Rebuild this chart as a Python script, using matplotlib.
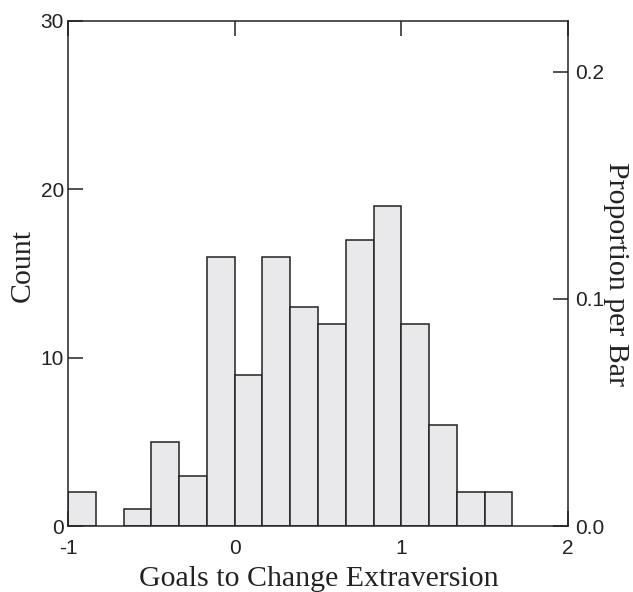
import matplotlib
matplotlib.use("Agg")
import matplotlib.pyplot as plt
import numpy as np

# Data
bin_start = -1.0
bin_width = 1.0 / 6.0
counts = [2, 0, 1, 5, 3, 16, 9, 16, 13, 12, 17, 19, 12, 6, 2, 2]
x_ticks = [-1, 0, 1, 2]
x_tick_labels = ["-1", "0", "1", "2"]
count_ticks = [0, 10, 20, 30]
prop_ticks = [0.0, 0.1, 0.2]
prop_tick_labels = ["0.0", "0.1", "0.2"]

total = sum(counts)
edges = [bin_start + i * bin_width for i in range(len(counts))]

W, H = 633, 592
fig = plt.figure(figsize=(W / 100, H / 100), dpi=100)
ax = fig.add_axes([68 / W, (H - 526) / H, (568 - 68) / W, (526 - 21) / H])

sans = ["Liberation Sans", "DejaVu Sans"]
serif = ["Liberation Serif", "DejaVu Serif"]
edge_col = "#222222"

nz = [(e, c) for e, c in zip(edges, counts) if c > 0]
ax.bar([e for e, c in nz], [c for e, c in nz], width=bin_width, align="edge",
       color="#e9e9eb", edgecolor=edge_col, linewidth=1.1, zorder=2)

ax.set_xlim(-1, 2)
ax.set_ylim(0, 30)
ax.set_xticks(x_ticks)
ax.set_xticklabels(x_tick_labels)
ax.set_yticks(count_ticks)

for s in ax.spines.values():
    s.set_linewidth(1.1)
    s.set_color(edge_col)
    s.set_zorder(3)

ax.tick_params(axis="x", direction="in", length=11, width=1.1, color=edge_col,
               top=True, bottom=True, labelsize=15, pad=9)
ax.tick_params(axis="y", direction="in", length=11, width=1.1, color=edge_col,
               left=True, right=False, labelsize=15, pad=3)
for lab in ax.get_xticklabels() + ax.get_yticklabels():
    lab.set_family(sans)
    lab.set_color("#222222")

ax2 = ax.twinx()
ax2.set_ylim(0, 30 / total)
ax2.set_yticks(prop_ticks)
ax2.set_yticklabels(prop_tick_labels)
ax2.tick_params(axis="y", direction="in", length=11, width=1.1, color=edge_col,
                labelsize=15, pad=5)
for lab in ax2.get_yticklabels():
    lab.set_family(sans)
    lab.set_color("#222222")
for s in ax2.spines.values():
    s.set_visible(False)

fs = 21.5
fig.text(318.5 / W, 1 - 586 / H, "Goals to Change Extraversion", family=serif,
         fontsize=fs, color="#222222", ha="center", va="baseline")
fig.text(22.5 / W, 1 - 265 / H, "Count", family=serif, fontsize=fs,
         color="#222222", ha="center", va="center", rotation=90)
fig.text(616 / W, 1 - 274 / H, "Proportion per Bar", family=serif, fontsize=fs,
         color="#222222", ha="center", va="center", rotation=-90)

fig.savefig("out.png", dpi=100)
